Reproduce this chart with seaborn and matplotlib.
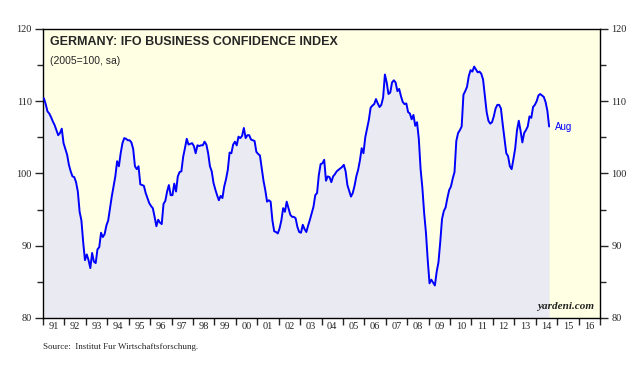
import numpy as np
import pandas as pd
import seaborn as sns
import matplotlib.pyplot as plt
from matplotlib.ticker import MultipleLocator, FixedLocator, NullFormatter

# IFO business confidence index (2005=100, sa), monthly values
ifo_by_year = {
    1991: [110.4, 109.6, 108.6, 108.3, 107.8, 107.2, 106.7, 106.0, 105.3, 105.6, 106.2, 104.2],
    1992: [103.4, 102.6, 101.2, 100.3, 99.6, 99.5, 98.8, 97.5, 94.7, 93.5, 90.5, 88.0],
    1993: [88.8, 88.0, 86.9, 89.0, 87.8, 87.6, 89.5, 89.8, 91.8, 91.2, 91.6, 92.8],
    1994: [93.5, 95.2, 96.8, 98.2, 99.6, 101.7, 101.0, 102.8, 104.2, 104.9, 104.8, 104.6],
    1995: [104.6, 104.3, 103.4, 101.0, 100.6, 101.0, 98.5, 98.4, 98.3, 97.3, 96.6, 95.9],
    1996: [95.5, 95.2, 94.0, 92.7, 93.6, 93.2, 93.0, 95.8, 96.2, 97.5, 98.4, 97.0],
    1997: [97.0, 98.6, 97.5, 99.6, 100.2, 100.3, 102.3, 103.5, 104.8, 104.0, 104.1, 104.2],
    1998: [103.8, 102.8, 103.9, 103.8, 103.9, 103.9, 104.4, 104.0, 102.8, 101.0, 100.3, 98.7],
    1999: [97.8, 97.0, 96.3, 96.9, 96.6, 98.2, 99.2, 100.5, 102.9, 102.8, 104.0, 104.4],
    2000: [103.9, 105.1, 104.9, 105.2, 106.3, 104.9, 105.3, 105.3, 104.7, 104.6, 104.5, 103.0],
    2001: [102.7, 102.5, 100.7, 99.0, 97.7, 96.1, 96.3, 96.1, 93.5, 92.0, 91.9, 91.7],
    2002: [92.4, 93.5, 95.2, 94.7, 96.1, 95.2, 94.3, 94.0, 94.0, 93.8, 92.6, 91.9],
    2003: [91.8, 92.9, 92.3, 91.9, 92.8, 93.6, 94.5, 95.4, 97.0, 97.3, 99.8, 101.3],
    2004: [101.4, 101.9, 99.0, 99.6, 99.5, 98.8, 99.6, 99.9, 100.3, 100.5, 100.7, 100.9],
    2005: [101.2, 100.3, 98.4, 97.6, 96.8, 97.3, 98.3, 99.6, 100.5, 101.8, 103.5, 102.8],
    2006: [105.0, 106.2, 107.4, 109.1, 109.4, 109.6, 110.3, 109.7, 109.2, 109.5, 110.5, 113.7],
    2007: [112.6, 111.0, 111.2, 112.6, 112.9, 112.6, 111.4, 111.7, 110.7, 109.9, 109.6, 109.7],
    2008: [108.5, 108.3, 107.5, 108.1, 106.6, 107.1, 104.8, 100.6, 98.0, 94.5, 91.8, 88.0],
    2009: [84.8, 85.3, 84.9, 84.5, 86.4, 87.7, 90.5, 93.7, 94.8, 95.3, 96.6, 97.7],
    2010: [98.2, 99.3, 100.2, 104.5, 105.6, 106.0, 106.5, 110.9, 111.4, 112.0, 113.5, 114.3],
    2011: [114.1, 114.8, 114.4, 114.0, 114.1, 113.8, 113.0, 110.8, 108.5, 107.3, 106.9, 107.1],
    2012: [107.9, 109.0, 109.5, 109.5, 109.0, 106.8, 104.8, 102.8, 102.4, 101.0, 100.6, 102.0],
    2013: [103.5, 106.0, 107.3, 105.9, 104.3, 105.6, 106.0, 106.5, 107.9, 107.7, 109.2, 109.5],
    2014: [110.0, 110.8, 111.0, 110.8, 110.6, 109.9, 108.7, 106.5],
}
year_labels = ["91", "92", "93", "94", "95", "96", "97", "98", "99", "00", "01", "02", "03",
               "04", "05", "06", "07", "08", "09", "10", "11", "12", "13", "14", "15", "16"]

# build a tidy frame: decimal year at mid-month
rows = []
for yr, vals in ifo_by_year.items():
    for m, v in enumerate(vals):
        rows.append({"t": yr + (m + 0.5) / 12, "ifo": v})
df = pd.DataFrame(rows)

sns.set_style("white")
plt.rcParams["font.family"] = ["Liberation Sans", "DejaVu Sans"]

fig = plt.figure(figsize=(6.44, 3.76), dpi=100)
ax = fig.add_axes([0.0668, 0.1543, 0.8649, 0.7686])
ax.set_facecolor("#FFFFE4")

ax.fill_between(df["t"], 80, df["ifo"], color="#EAEAF2", lw=0, zorder=1)
sns.lineplot(data=df, x="t", y="ifo", color="#0000FF", lw=1.4, ax=ax, zorder=3)

ax.set_xlim(1991, 2017)
ax.set_ylim(80, 120)
ax.set_xlabel("")
ax.set_ylabel("")

for s in ax.spines.values():
    s.set_color("black")
    s.set_linewidth(1.0)

# y axis on both sides
ax.yaxis.set_major_locator(MultipleLocator(10))
ax.yaxis.set_minor_locator(MultipleLocator(5))
ax.tick_params(axis="y", which="both", left=True, right=True, labelleft=True,
               labelright=True, direction="out", width=1.0, labelsize=7.5, pad=2)
ax.tick_params(axis="y", which="major", length=6)
ax.tick_params(axis="y", which="minor", length=4)

# x: ticks at year boundaries, labels centred in the year
ax.xaxis.set_major_locator(FixedLocator(np.arange(1991, 2018)))
ax.xaxis.set_major_formatter(NullFormatter())
ax.xaxis.set_minor_locator(FixedLocator(np.arange(1991, 2017) + 0.5))
ax.set_xticklabels(year_labels, minor=True)
ax.tick_params(axis="x", which="major", bottom=True, direction="out", length=5, width=1.0)
ax.tick_params(axis="x", which="minor", bottom=True, length=0, labelsize=7.5, pad=3)

serif = ["Liberation Serif", "DejaVu Serif"]
for lab in ax.get_yticklabels() + ax.get_xticklabels(minor=True):
    lab.set_family(serif)

ax.text(0.012, 0.975, "GERMANY: IFO BUSINESS CONFIDENCE INDEX", transform=ax.transAxes,
        fontsize=9, fontweight="bold", va="top", ha="left")
ax.text(0.012, 0.905, "(2005=100, sa)", transform=ax.transAxes,
        fontsize=7.5, va="top", ha="left")

last = df.iloc[-1]
ax.text(last["t"] + 0.25, last["ifo"], "Aug", color="#0000FF", fontsize=7,
        va="center", ha="left")

ax.text(0.99, 0.025, "yardeni.com", transform=ax.transAxes, fontsize=8,
        family=serif, style="italic", fontweight="bold", ha="right", va="bottom",
        color="#222222")

fig.text(43 / 644, 1 - 347 / 376, "Source:  Institut Fur Wirtschaftsforschung.",
         fontsize=6.5, family=serif, ha="left", va="center")

fig.savefig("out.png", dpi=100)
